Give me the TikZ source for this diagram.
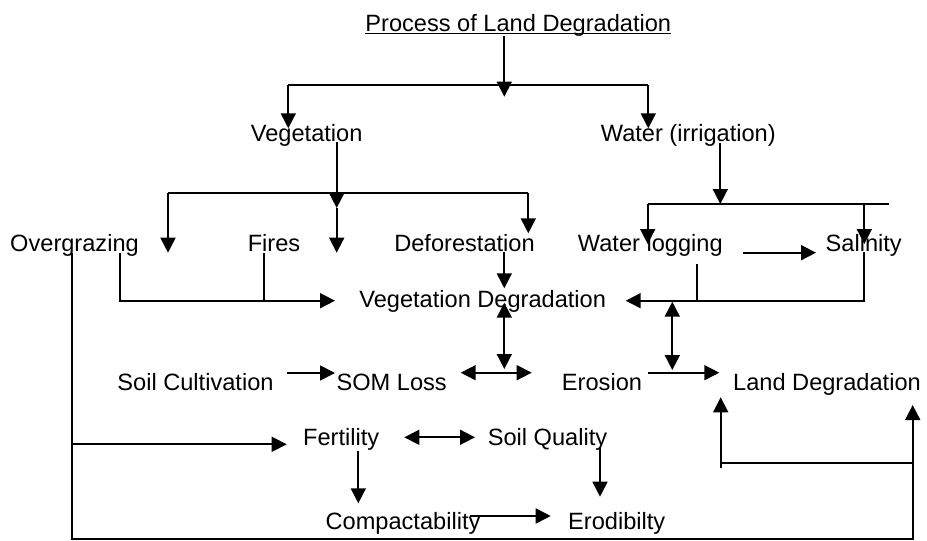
\documentclass[tikz,border=0pt]{standalone}
\usepackage{fontspec}
\setmainfont{Liberation Sans}
\usetikzlibrary{arrows.meta}
\begin{document}
\begin{tikzpicture}[x=1pt,y=-1pt,
  lbl/.style={anchor=base,inner sep=0pt,font=\fontsize{23.6}{28}\selectfont},
  ln/.style={line width=1.7pt},
  tip/.tip={Triangle[width=15pt,length=15pt]},
  arr/.style={line width=1.7pt,-tip},
  darr/.style={line width=1.7pt,tip-tip}]
\useasboundingbox (0,0) rectangle (927,541);
% text nodes
\node[lbl] (title) at (518.3,31.7) {Process of Land Degradation};
\node[lbl] (veg) at (306.7,141.8) {Vegetation};
\node[lbl] (water) at (688.3,141.8) {Water (irrigation)};
\node[lbl] (over) at (74.5,251.5) {Overgrazing};
\node[lbl] (fires) at (274,251.5) {Fires};
\node[lbl] (defor) at (464.5,251.5) {Deforestation};
\node[lbl] (wlog) at (650.3,251.5) {Water logging};
\node[lbl] (sal) at (863.7,251.5) {Salinity};
\node[lbl] (vegdeg) at (482.7,307.5) {Vegetation Degradation};
\node[lbl] (cult) at (195.5,390) {Soil Cultivation};
\node[lbl] (som) at (391.7,390) {SOM Loss};
\node[lbl] (eros) at (602,390) {Erosion};
\node[lbl] (landdeg) at (827,390) {Land Degradation};
\node[lbl] (fert) at (341.2,445.8) {Fertility};
\node[lbl] (soilq) at (547.5,445.2) {Soil Quality};
\node[lbl] (comp) at (403,529.5) {Compactability};
\node[lbl] (erod) at (616.7,529.5) {Erodibilty};
% underline of title
\draw[line width=1.3pt] ([yshift=-1.8pt]title.base west) -- ([yshift=-1.8pt]title.base east);
% coordinates
\coordinate (t1) at (504.3,36);
\coordinate (t2) at (504.3,96.7);
\coordinate (tL) at (288.3,85);
\coordinate (tR) at (648.3,85);
\coordinate (tLe) at (288.3,128.3);
\coordinate (tRe) at (648.3,128.3);
\coordinate (v1) at (336.7,141.7);
\coordinate (v2) at (336.7,208);
\coordinate (v3) at (336.7,252.7);
\coordinate (vL) at (168,192.7);
\coordinate (vLe) at (168,252.7);
\coordinate (vR) at (528.3,192.7);
\coordinate (vRe) at (528.3,233.3);
\coordinate (w1) at (720.3,143.3);
\coordinate (w2) at (720.3,204);
\coordinate (wL) at (647.7,204.3);
\coordinate (wR) at (864.3,204.3);
\coordinate (wE) at (889.3,204.3);
\coordinate (wLe) at (647.7,244);
\coordinate (wRe) at (864.3,244);
\coordinate (ws1) at (743.3,252.7);
\coordinate (ws2) at (816,252.7);
\coordinate (o1) at (120,253);
\coordinate (o2) at (120,300.7);
\coordinate (o3) at (335,300.7);
\coordinate (f1) at (264,253);
\coordinate (f2) at (264,300.7);
\coordinate (g1) at (71.7,253);
\coordinate (g2) at (71.7,539.3);
\coordinate (g3) at (912.7,539.3);
\coordinate (g4) at (912.7,405);
\coordinate (gf1) at (71.7,444.3);
\coordinate (gf2) at (286.7,444.3);
\coordinate (d1) at (504.3,251.7);
\coordinate (d2) at (504.3,288.3);
\coordinate (s1) at (864.3,251.7);
\coordinate (s2) at (864.3,300.7);
\coordinate (s3) at (625.7,300.7);
\coordinate (l1) at (696.7,264);
\coordinate (l2) at (696.7,300.7);
\coordinate (a1) at (504.3,302.7);
\coordinate (a2) at (504.3,369);
\coordinate (b1) at (672.3,301.7);
\coordinate (b2) at (672.3,370);
\coordinate (c1) at (287,373);
\coordinate (c2) at (335,373);
\coordinate (se1) at (460.7,372.7);
\coordinate (se2) at (531.7,372.7);
\coordinate (el1) at (648.3,372.7);
\coordinate (el2) at (719.3,372.7);
\coordinate (u1) at (720.7,468.3);
\coordinate (u2) at (720.7,397.3);
\coordinate (uh) at (720.7,463.3);
\coordinate (uh2) at (912.7,463.3);
\coordinate (fs1) at (404.3,437.3);
\coordinate (fs2) at (475,437.3);
\coordinate (fc1) at (358.3,450.7);
\coordinate (fc2) at (358.3,503.3);
\coordinate (qe1) at (600,446.7);
\coordinate (qe2) at (600,496.7);
\coordinate (ce1) at (470,516);
\coordinate (ce2) at (550.7,516);
% connectors
\draw[arr] (t1) -- (t2);
\draw[ln] (tL) -- (tR);
\draw[arr] (tL) -- (tLe);
\draw[arr] (tR) -- (tRe);
\draw[arr] (v1) -- (v2);
\draw[arr] (v2) -- (v3);
\draw[ln] (vL) -- (vR);
\draw[arr] (vL) -- (vLe);
\draw[arr] (vR) -- (vRe);
\draw[arr] (w1) -- (w2);
\draw[ln] (wL) -- (wE);
\draw[arr] (wL) -- (wLe);
\draw[arr] (wR) -- (wRe);
\draw[arr] (ws1) -- (ws2);
\draw[arr] (o1) -- (o2) -- (o3);
\draw[ln] (f1) -- (f2);
\draw[arr] (g1) -- (g2) -- (g3) -- (g4);
\draw[arr] (gf1) -- (gf2);
\draw[arr] (d1) -- (d2);
\draw[arr] (s1) -- (s2) -- (s3);
\draw[ln] (l1) -- (l2);
\draw[darr] (a1) -- (a2);
\draw[darr] (b1) -- (b2);
\draw[arr] (c1) -- (c2);
\draw[darr] (se1) -- (se2);
\draw[arr] (el1) -- (el2);
\draw[arr] (u1) -- (u2);
\draw[ln] (uh) -- (uh2);
\draw[darr] (fs1) -- (fs2);
\draw[arr] (fc1) -- (fc2);
\draw[arr] (qe1) -- (qe2);
\draw[arr] (ce1) -- (ce2);
\end{tikzpicture}
\end{document}
